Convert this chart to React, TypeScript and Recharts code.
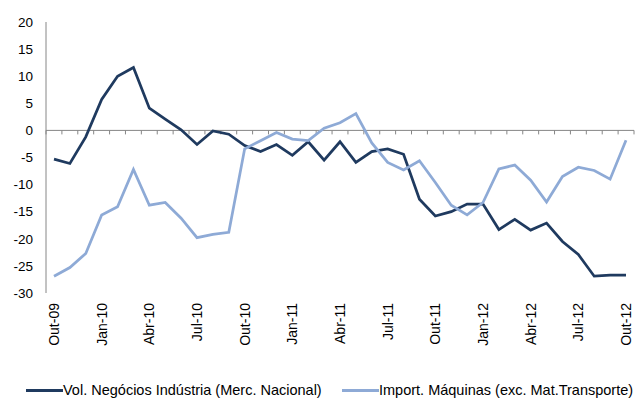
import React from "react";
import { LineChart, Line, XAxis, YAxis, ReferenceLine, Legend } from "recharts";

const months = [
  "Out-09", "Nov-09", "Dez-09", "Jan-10", "Fev-10", "Mar-10", "Abr-10", "Mai-10", "Jun-10",
  "Jul-10", "Ago-10", "Set-10", "Out-10", "Nov-10", "Dez-10", "Jan-11", "Fev-11", "Mar-11",
  "Abr-11", "Mai-11", "Jun-11", "Jul-11", "Ago-11", "Set-11", "Out-11", "Nov-11", "Dez-11",
  "Jan-12", "Fev-12", "Mar-12", "Abr-12", "Mai-12", "Jun-12", "Jul-12", "Ago-12", "Set-12",
  "Out-12",
];

const volNegocios = [
  -5.3, -6.1, -1.2, 5.7, 10.0, 11.6, 4.1, 2.1, 0.1, -2.6, -0.1, -0.7, -2.8, -3.9, -2.6, -4.6,
  -2.1, -5.5, -2.1, -5.9, -3.9, -3.4, -4.4, -12.7, -15.8, -15.0, -13.6, -13.6, -18.3, -16.4,
  -18.4, -17.1, -20.5, -22.9, -26.9, -26.7, -26.7,
];

const importMaquinas = [
  -26.9, -25.3, -22.7, -15.6, -14.1, -7.2, -13.8, -13.3, -16.2, -19.8, -19.2, -18.8, -3.4, -1.9,
  -0.4, -1.6, -1.9, 0.4, 1.4, 3.1, -2.3, -5.9, -7.3, -5.6, -9.6, -13.8, -15.6, -13.3, -7.1, -6.4,
  -9.2, -13.2, -8.5, -6.8, -7.4, -9.0, -1.8,
];

const yTicks = [-30, -25, -20, -15, -10, -5, 0, 5, 10, 15, 20];

const seriesNames = [
  "Vol. Negócios Indústria (Merc. Nacional)",
  "Import. Máquinas (exc. Mat.Transporte)",
];

const DARK = "#1f3a5f";
const LIGHT = "#8eaad6";
const AXIS = "#868686";
const FONT = "'Liberation Sans', Arial, sans-serif";

const data = months.map((m, i) => ({
  month: m,
  vol: volNegocios[i],
  imp: importMaquinas[i],
}));

function MonthTick(props: any) {
  const { x, y, payload } = props;
  return (
    <text
      transform={`translate(${x},${y + 2}) rotate(-90)`}
      textAnchor="end"
      dy="0.36em"
      fontSize={14}
      fontFamily={FONT}
      fill="#000"
    >
      {payload.value}
    </text>
  );
}

// zero line with small category tick marks (like the category axis crossing at 0)
function ZeroAxis(props: any) {
  const { x1, y1, x2, y2 } = props;
  const n = months.length;
  const step = (x2 - x1) / n;
  const marks = [];
  for (let k = 0; k <= n; k++) {
    const tx = x1 + k * step;
    marks.push(<line key={k} x1={tx} x2={tx} y1={y1} y2={y1 + 4} stroke={AXIS} strokeWidth={1} />);
  }
  return (
    <g>
      <line x1={x1} y1={y1} x2={x2} y2={y2} stroke={AXIS} strokeWidth={1} />
      {marks}
    </g>
  );
}

function LegendBox() {
  const items = [
    { name: seriesNames[0], color: DARK, left: 26 },
    { name: seriesNames[1], color: LIGHT, left: 342 },
  ];
  return (
    <div style={{ position: "relative", height: 33, width: 639 }}>
      {items.map((it) => (
        <div
          key={it.name}
          style={{
            position: "absolute",
            left: it.left,
            top: 12,
            height: 16,
            display: "flex",
            alignItems: "center",
            fontFamily: FONT,
            fontSize: 14.5,
            color: "#000",
            whiteSpace: "nowrap",
          }}
        >
          <span style={{ display: "inline-block", width: 37, height: 3, background: it.color }} />
          <span>{it.name}</span>
        </div>
      ))}
    </div>
  );
}

export default function App() {
  return (
    <div style={{ position: "absolute", left: 0, top: 0, background: "#fff" }}>
      <LineChart width={639} height={403} data={data} margin={{ top: 22, right: 5, left: 0, bottom: 0 }}>
        <ReferenceLine y={0} shape={<ZeroAxis />} />
        <XAxis
          dataKey="month"
          interval={2}
          axisLine={false}
          tickLine={false}
          height={77}
          padding={{ left: 8, right: 8 }}
          tick={<MonthTick />}
        />
        <YAxis
          domain={[-30, 20]}
          ticks={yTicks}
          width={46}
          axisLine={{ stroke: AXIS }}
          tickLine={false}
          tickMargin={7}
          tick={{ fontSize: 13.5, fontFamily: FONT, fill: "#000" }}
        />
        <Legend verticalAlign="bottom" content={<LegendBox />} />
        <Line
          dataKey="vol"
          name={seriesNames[0]}
          stroke={DARK}
          strokeWidth={2.75}
          dot={false}
          isAnimationActive={false}
        />
        <Line
          dataKey="imp"
          name={seriesNames[1]}
          stroke={LIGHT}
          strokeWidth={2.75}
          dot={false}
          isAnimationActive={false}
        />
      </LineChart>
    </div>
  );
}
